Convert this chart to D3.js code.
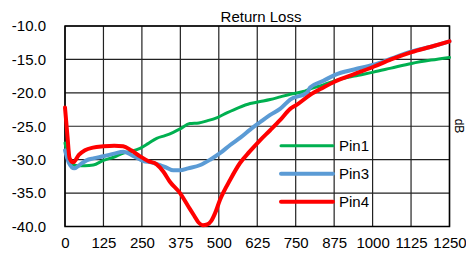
<!DOCTYPE html>
<meta charset="utf-8">
<head>
<style>
  body { margin: 0; background: #fff; }
  text { font-family: "Liberation Sans", Arial, sans-serif; fill: #000; }
</style>
</head>
<div id="chart"></div>
<script src="https://cdn.jsdelivr.net/npm/d3@7"></script>
<script>

// frequency ticks and level ticks
var xTicks = [0, 125, 250, 375, 500, 625, 750, 875, 1000, 1125, 1250];
var yTicks = [-10, -15, -20, -25, -30, -35, -40];

// Pin1 (green)
var pin1Freq = [0, 10, 25, 40, 65, 92, 125, 160, 190, 220, 244, 270, 298, 325, 352, 374, 406, 435, 461, 495, 526, 565, 602, 635, 667, 700, 732, 775, 797, 840, 878, 940, 1003, 1060, 1127, 1190, 1250];
var pin1Val  = [-27.5, -29.6, -30.7, -30.9, -30.9, -30.8, -30.1, -29.6, -29.0, -28.7, -28.3, -27.6, -26.8, -26.4, -25.9, -25.4, -24.6, -24.5, -24.2, -23.7, -23.0, -22.2, -21.6, -21.3, -21.0, -20.6, -20.2, -19.8, -19.4, -18.8, -18.2, -17.5, -16.9, -16.3, -15.6, -15.1, -14.7];

// Pin3 (blue)
var pin3Freq = [0, 12, 30, 50, 70, 92, 125, 160, 190, 220, 255, 280, 309, 330, 352, 374, 400, 440, 472, 505, 537, 570, 602, 634, 667, 699, 732, 786, 797, 840, 878, 940, 1003, 1060, 1127, 1190, 1250];
var pin3Val  = [-28.6, -30.4, -31.3, -30.7, -30.1, -29.8, -29.5, -29.1, -28.8, -29.4, -30.2, -30.4, -30.8, -31.2, -31.6, -31.6, -31.3, -30.8, -30.0, -29.0, -27.8, -26.7, -25.5, -24.4, -23.3, -22.4, -21.0, -20.0, -19.2, -18.2, -17.3, -16.5, -15.8, -14.9, -13.8, -13.1, -12.3];

// Pin4 (red)
var pin4Freq = [0, 8, 15, 27, 45, 65, 91, 125, 160, 189, 215, 244, 270, 298, 320, 341, 374, 401, 420, 434, 448, 462, 475, 488, 504, 537, 569, 600, 634, 667, 699, 732, 753, 797, 840, 878, 940, 1003, 1060, 1127, 1190, 1250];
var pin4Val  = [-22.2, -26.5, -29.8, -30.4, -29.3, -28.6, -28.2, -28.0, -27.9, -28.0, -28.6, -29.5, -30.2, -30.7, -31.8, -33.3, -35.0, -37.0, -38.4, -39.4, -39.8, -39.7, -39.2, -38.0, -36.0, -33.0, -30.5, -28.8, -27.1, -25.6, -24.1, -22.4, -21.8, -20.3, -19.2, -18.3, -17.2, -16.1, -15.0, -13.9, -13.1, -12.3];

var seriesNames = ["Pin1", "Pin3", "Pin4"];
var seriesColors = ["#00b050", "#5b9bd5", "#ff0000"];
var seriesWidths = [3, 4, 4];

var series = [
  pin1Freq.map(function(f, i) { return [f, pin1Val[i]]; }),
  pin3Freq.map(function(f, i) { return [f, pin3Val[i]]; }),
  pin4Freq.map(function(f, i) { return [f, pin4Val[i]]; })
];

var margin = {top: 26, left: 65},
    width = 449.5 - margin.left,
    height = 226.5 - margin.top;

var svg = d3.select("#chart")
  .append("svg")
    .attr("width", 466)
    .attr("height", 256);

var g = svg.append("g")
    .attr("transform", "translate(" + margin.left + "," + margin.top + ")");

var x = d3.scaleLinear().domain([0, 1250]).range([0, width]);
var y = d3.scaleLinear().domain([-40, -10]).range([height, 0]);

// grid
g.selectAll(".vgrid")
  .data(xTicks)
  .enter().append("line")
    .attr("x1", function(d) { return x(d); })
    .attr("x2", function(d) { return x(d); })
    .attr("y1", 0)
    .attr("y2", height)
    .attr("stroke", "#222")
    .attr("stroke-width", 1.2);

g.selectAll(".hgrid")
  .data(yTicks)
  .enter().append("line")
    .attr("x1", 0)
    .attr("x2", width)
    .attr("y1", function(d) { return y(d); })
    .attr("y2", function(d) { return y(d); })
    .attr("stroke", "#222")
    .attr("stroke-width", 1.2);

g.append("rect")
  .attr("width", width)
  .attr("height", height)
  .attr("fill", "none")
  .attr("stroke", "#000")
  .attr("stroke-width", 1.5);

// axis labels (plain hyphen for the minus sign)
var xAxis = g.append("g")
  .attr("transform", "translate(0," + height + ")")
  .call(d3.axisBottom(x).tickValues(xTicks).tickSize(0).tickPadding(11).tickFormat(function(d) { return String(d); }));
var yAxis = g.append("g")
  .call(d3.axisLeft(y).tickValues(yTicks).tickSize(0).tickPadding(19).tickFormat(function(d) { return d.toFixed(1); }));
[xAxis, yAxis].forEach(function(a) {
  a.select(".domain").remove();
  a.selectAll("text")
    .style("font-family", "'Liberation Sans', Arial, sans-serif")
    .style("font-size", "15px")
    .attr("fill", "#000");
});

// curves
var line = d3.line()
  .x(function(d) { return x(d[0]); })
  .y(function(d) { return y(d[1]); })
  .curve(d3.curveMonotoneX);

series.forEach(function(s, i) {
  g.append("path")
    .datum(s)
    .attr("fill", "none")
    .attr("stroke", seriesColors[i])
    .attr("stroke-width", seriesWidths[i])
    .attr("stroke-linejoin", "round")
    .attr("stroke-linecap", "round")
    .attr("d", line);
});

// title
svg.append("text")
  .attr("x", 261)
  .attr("y", 22)
  .attr("text-anchor", "middle")
  .style("font-size", "15px")
  .text("Return Loss");

// right unit label
svg.append("text")
  .attr("transform", "translate(455,126) rotate(90)")
  .attr("text-anchor", "middle")
  .style("font-size", "12px")
  .text("dB");

// legend
var legend = svg.selectAll(".legend")
  .data(seriesNames)
  .enter().append("g")
    .attr("transform", function(d, i) { return "translate(281," + [145.7, 173.7, 201.7][i] + ")"; });

legend.append("line")
  .attr("x1", 0)
  .attr("x2", 52)
  .attr("stroke", function(d, i) { return seriesColors[i]; })
  .attr("stroke-width", function(d, i) { return seriesWidths[i]; })
  .attr("stroke-linecap", "round");

legend.append("text")
  .attr("x", 58)
  .attr("y", 5.5)
  .style("font-size", "15px")
  .text(function(d) { return d; });

</script>
